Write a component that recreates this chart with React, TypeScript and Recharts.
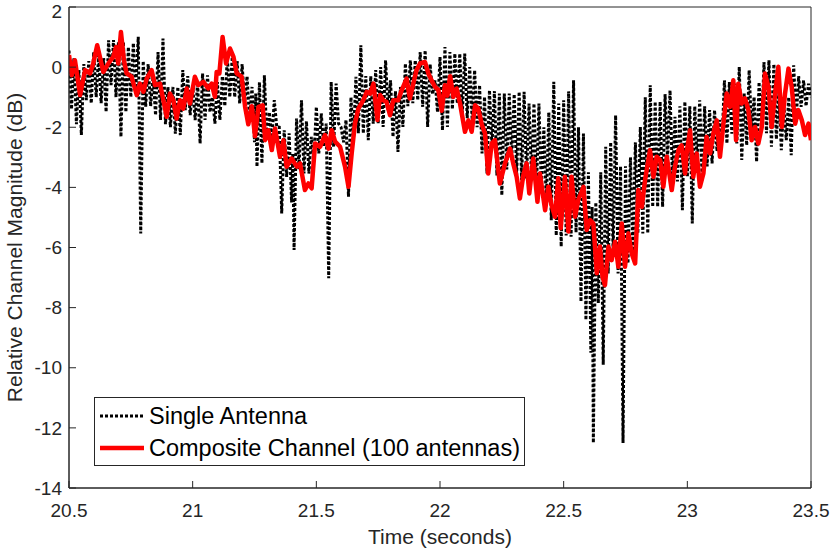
import { Label, Legend, Line, LineChart, ReferenceArea, XAxis, YAxis } from 'recharts';

// time axis (s) and magnitude axis (dB)
const xTicks = [20.5, 21, 21.5, 22, 22.5, 23, 23.5];
const yTicks = [-14, -12, -10, -8, -6, -4, -2, 0, 2];

// [time (s), relative magnitude (dB)]
const singleAntenna: [number, number][] = [
  [20.5, 0.55], [20.51, -1.4], [20.52, 0.3], [20.53, -1.9], [20.54, -0.1], [20.55, -2.26], [20.56, 0.1], [20.57, -1.1], [20.58, 0.2], [20.59, -1.2],
  [20.6, 0.5], [20.61, -1.0], [20.62, 0.4], [20.63, -1.2], [20.64, 0.3], [20.65, -1.49], [20.66, 0.89], [20.67, -0.6], [20.68, 0.9], [20.69, -1.0],
  [20.7, 0.84], [20.71, -2.32], [20.72, 0.84], [20.73, -1.5], [20.74, 0.67], [20.75, -1.0], [20.76, 0.8], [20.77, -0.7], [20.78, 1.01], [20.79, -5.53],
  [20.8, 0.2], [20.81, -1.32], [20.82, 0.1], [20.83, -1.3], [20.84, -0.3], [20.85, -1.6], [20.86, 0.5], [20.87, -1.76], [20.88, 0.95], [20.89, -1.9],
  [20.9, -0.66], [20.91, -2.0], [20.92, -0.66], [20.93, -2.21], [20.94, -0.66], [20.95, -2.26], [20.96, -0.1], [20.97, -1.43], [20.98, -0.3], [20.99, -1.6],
  [21.0, -0.6], [21.01, -1.76], [21.02, -0.5], [21.03, -2.54], [21.04, -0.21], [21.05, -1.76], [21.06, -0.27], [21.07, -1.5], [21.08, -1.0], [21.09, -1.88],
  [21.1, -0.5], [21.11, -1.76], [21.12, -0.3], [21.13, -1.3], [21.14, 0.34], [21.15, -1.0], [21.16, 0.34], [21.17, -1.0], [21.18, 0.2], [21.19, -1.21],
  [21.2, 0.1], [21.21, -1.21], [21.22, -0.3], [21.23, -1.76], [21.24, -0.66], [21.25, -2.5], [21.255, -0.88], [21.26, -3.31], [21.27, -0.5], [21.28, -3.2],
  [21.29, -0.27], [21.3, -2.4], [21.31, -1.5], [21.32, -2.43], [21.33, -1.1], [21.34, -1.99], [21.35, -2.0], [21.36, -4.87], [21.37, -2.1], [21.38, -3.65],
  [21.39, -2.2], [21.4, -4.5], [21.405, -2.87], [21.41, -6.08], [21.42, -1.71], [21.43, -3.4], [21.44, -1.1], [21.45, -3.54], [21.46, -1.8], [21.47, -3.54],
  [21.48, -2.32], [21.49, -3.09], [21.5, -1.32], [21.51, -2.87], [21.52, -1.54], [21.53, -2.65], [21.54, -1.88], [21.55, -7.02], [21.56, -0.49], [21.57, -2.65],
  [21.58, -0.55], [21.59, -1.88], [21.6, -2.0], [21.61, -2.5], [21.62, -1.76], [21.63, -4.31], [21.64, -1.0], [21.65, -2.43], [21.66, -0.32], [21.67, -2.2],
  [21.68, 0.73], [21.69, -2.21], [21.7, -0.3], [21.71, -2.43], [21.72, -0.3], [21.73, -1.88], [21.74, -0.1], [21.75, -1.88], [21.76, 0.0], [21.77, -1.99],
  [21.78, 0.23], [21.79, -1.43], [21.8, -0.44], [21.81, -2.32], [21.82, -0.8], [21.83, -2.82], [21.84, -0.66], [21.85, -1.99], [21.86, 0.12], [21.87, -1.3],
  [21.88, 0.23], [21.89, -1.2], [21.9, 0.23], [21.91, -1.1], [21.92, 0.5], [21.93, -1.32], [21.94, 0.56], [21.95, -1.99], [21.96, 0.1], [21.97, -0.9],
  [21.98, -0.44], [21.99, -1.5], [22.0, 0.34], [22.01, -2.1], [22.02, 0.67], [22.03, -1.99], [22.04, 0.5], [22.05, -1.4], [22.06, 0.45], [22.07, -1.21],
  [22.08, 0.45], [22.09, -1.65], [22.1, 0.45], [22.11, -1.7], [22.12, 0.0], [22.13, -1.76], [22.14, -0.1], [22.15, -2.0], [22.16, -0.6], [22.17, -2.87],
  [22.18, -0.99], [22.19, -3.54], [22.2, -0.77], [22.21, -2.65], [22.22, -0.8], [22.23, -3.6], [22.24, -0.88], [22.25, -4.26], [22.26, -0.88], [22.27, -3.4],
  [22.28, -0.88], [22.29, -3.09], [22.3, -0.9], [22.31, -3.6], [22.32, -0.82], [22.33, -3.76], [22.34, -0.82], [22.35, -3.7], [22.36, -1.21], [22.37, -3.65],
  [22.38, -1.21], [22.39, -4.09], [22.4, -1.21], [22.41, -4.09], [22.42, -2.0], [22.43, -4.54], [22.44, -1.5], [22.45, -5.09], [22.46, -0.49], [22.47, -5.6],
  [22.48, -1.21], [22.49, -5.97], [22.5, -1.1], [22.51, -5.6], [22.52, -0.8], [22.53, -5.64], [22.54, -0.44], [22.55, -5.5], [22.56, -2.0], [22.57, -7.8],
  [22.58, -2.21], [22.59, -8.41], [22.6, -3.5], [22.61, -9.5], [22.615, -4.65], [22.62, -12.5], [22.63, -4.5], [22.64, -7.85], [22.65, -3.5], [22.66, -9.9],
  [22.67, -2.65], [22.68, -6.86], [22.69, -2.5], [22.7, -6.2], [22.71, -1.6], [22.72, -6.86], [22.73, -3.3], [22.74, -12.5], [22.75, -3.3], [22.76, -6.53],
  [22.77, -3.0], [22.78, -6.2], [22.79, -2.5], [22.8, -5.53], [22.81, -1.99], [22.82, -5.53], [22.83, -1.0], [22.84, -5.53], [22.85, -0.6], [22.86, -4.65],
  [22.87, -1.15], [22.88, -4.65], [22.89, -1.15], [22.9, -4.65], [22.91, -0.9], [22.92, -3.09], [22.93, -0.77], [22.94, -3.76], [22.95, -1.65], [22.96, -3.8],
  [22.97, -1.3], [22.98, -4.76], [22.99, -1.15], [23.0, -3.65], [23.01, -1.3], [23.02, -5.2], [23.03, -1.3], [23.04, -3.31], [23.05, -1.1], [23.06, -3.76],
  [23.07, -1.3], [23.08, -3.3], [23.09, -1.43], [23.1, -3.2], [23.11, -1.43], [23.12, -2.8], [23.13, -1.76], [23.14, -2.5], [23.15, -0.44], [23.16, -2.54],
  [23.17, -0.5], [23.18, -2.21], [23.19, -0.55], [23.2, -2.54], [23.21, 0.01], [23.22, -3.09], [23.23, -0.88], [23.24, -2.6], [23.25, -0.1], [23.26, -2.2],
  [23.27, -0.99], [23.28, -3.15], [23.29, -0.5], [23.3, -2.1], [23.31, 0.17], [23.32, -2.2], [23.33, 0.23], [23.34, -2.65], [23.35, 0.1], [23.36, -2.4],
  [23.37, -0.8], [23.38, -2.76], [23.39, -1.2], [23.4, -2.43], [23.41, -1.0], [23.42, -2.93], [23.43, 0.06], [23.44, -1.76], [23.45, -0.3], [23.46, -1.32],
  [23.47, -0.44], [23.48, -1.3], [23.49, -0.55], [23.5, -1.0],
];

const compositeChannel: [number, number][] = [
  [20.5, 0.4], [20.511, -0.27], [20.524, 0.23], [20.545, -0.93], [20.565, -0.1], [20.585, -0.21], [20.598, 0.12], [20.614, 0.73], [20.639, -0.16], [20.659, 0.12],
  [20.679, 0.34], [20.69, 0.67], [20.699, 0.12], [20.71, 1.17], [20.722, 0.23], [20.733, -0.21], [20.753, -0.32], [20.774, -0.93], [20.787, -0.55], [20.801, -0.82],
  [20.814, -0.38], [20.834, -0.1], [20.848, -0.6], [20.868, -0.55], [20.895, -1.65], [20.908, -0.88], [20.922, -1.1], [20.935, -1.71], [20.949, -1.1], [20.962, -1.38],
  [20.976, -0.71], [20.989, -1.21], [21.009, -0.32], [21.023, -0.6], [21.043, -0.49], [21.063, -0.71], [21.077, -0.55], [21.09, -0.99], [21.097, -0.16], [21.108, -0.21],
  [21.121, 1.0], [21.135, 0.12], [21.151, 0.62], [21.165, 0.34], [21.178, -0.21], [21.198, -0.32], [21.212, -1.32], [21.225, -1.9], [21.239, -1.3], [21.252, -2.3],
  [21.266, -1.32], [21.283, -1.27], [21.293, -2.43], [21.306, -2.1], [21.32, -2.76], [21.333, -2.04], [21.353, -2.98], [21.367, -2.43], [21.38, -3.31], [21.4, -3.04],
  [21.421, -3.31], [21.434, -3.2], [21.454, -4.09], [21.468, -3.87], [21.481, -4.03], [21.495, -2.54], [21.515, -2.65], [21.535, -2.26], [21.549, -2.71], [21.562, -2.1],
  [21.576, -2.48], [21.596, -2.65], [21.616, -3.31], [21.63, -3.98], [21.643, -2.87], [21.656, -1.88], [21.67, -1.38], [21.69, -1.1], [21.704, -0.82], [21.717, -0.88],
  [21.731, -0.55], [21.747, -1.76], [21.758, -0.93], [21.771, -1.1], [21.784, -1.16], [21.798, -1.6], [21.811, -1.1], [21.831, -1.1], [21.845, -0.77], [21.865, -0.38],
  [21.878, -1.04], [21.892, -0.55], [21.905, -0.1], [21.919, 0.12], [21.939, 0.17], [21.953, -0.21], [21.966, -0.44], [21.98, -0.66], [21.993, -0.75], [22.007, -1.45],
  [22.02, -0.6], [22.03, -0.95], [22.041, -0.3], [22.054, -0.99], [22.067, -0.71], [22.081, -1.21], [22.101, -2.15], [22.115, -1.77], [22.128, -2.15], [22.142, -1.27],
  [22.155, -1.38], [22.168, -1.88], [22.182, -2.21], [22.195, -3.54], [22.209, -2.54], [22.222, -2.43], [22.242, -3.87], [22.263, -3.2], [22.283, -2.71], [22.296, -3.2],
  [22.31, -3.65], [22.323, -4.37], [22.337, -3.59], [22.35, -3.2], [22.361, -4.2], [22.377, -3.04], [22.394, -4.48], [22.404, -3.54], [22.425, -4.76], [22.438, -3.98],
  [22.451, -4.59], [22.465, -4.98], [22.478, -3.7], [22.488, -5.36], [22.505, -3.65], [22.519, -5.47], [22.532, -3.65], [22.546, -4.98], [22.559, -4.42], [22.58, -3.98],
  [22.593, -5.42], [22.607, -5.09], [22.62, -5.2], [22.634, -6.86], [22.647, -5.97], [22.657, -6.97], [22.667, -7.25], [22.681, -5.97], [22.694, -6.42], [22.708, -5.81],
  [22.721, -6.64], [22.735, -5.2], [22.748, -6.64], [22.762, -5.53], [22.775, -6.2], [22.789, -6.53], [22.802, -4.09], [22.816, -4.65], [22.829, -3.76], [22.849, -2.76],
  [22.863, -3.65], [22.876, -2.98], [22.89, -3.09], [22.903, -3.98], [22.917, -2.98], [22.937, -4.09], [22.95, -3.31], [22.964, -2.76], [22.977, -2.6], [22.991, -3.54],
  [22.997, -2.87], [23.011, -2.1], [23.024, -3.65], [23.038, -2.87], [23.051, -3.98], [23.065, -3.54], [23.078, -2.32], [23.092, -2.87], [23.105, -2.21], [23.119, -1.77],
  [23.132, -2.98], [23.146, -1.88], [23.159, -0.88], [23.173, -1.32], [23.186, -0.44], [23.197, -2.43], [23.206, -0.55], [23.22, -1.21], [23.233, -1.04], [23.247, -1.43],
  [23.26, -2.43], [23.274, -1.99], [23.287, -2.54], [23.301, -1.99], [23.314, -0.21], [23.328, -0.66], [23.341, -1.99], [23.355, -0.88], [23.368, 0.01], [23.382, -1.99],
  [23.395, -0.88], [23.409, -0.05], [23.422, -0.66], [23.436, -1.88], [23.449, -1.43], [23.463, -1.77], [23.476, -2.26], [23.49, -1.88], [23.5, -2.43],
];

const singleRows = singleAntenna.map(([t, v]) => ({ t, v }));
const compositeRows = compositeChannel.map(([t, v]) => ({ t, v }));

const FONT = "'Liberation Sans', Arial, Helvetica, sans-serif";
const AXIS = '#262626';

function LegendBox() {
  return (
    <div
      style={{
        width: 431,
        height: 69,
        boxSizing: 'border-box',
        border: `1px solid ${AXIS}`,
        background: '#fff',
        fontFamily: FONT,
        fontSize: 23.5,
        color: '#000',
        paddingLeft: 5,
        paddingTop: 2,
      }}
    >
      <div style={{ display: 'flex', alignItems: 'center', height: 32 }}>
        <svg width={44} height={10} style={{ marginRight: 5 }}>
          <line x1={0} y1={5} x2={44} y2={5} stroke="#000" strokeWidth={3} strokeDasharray="3 2" />
        </svg>
        <span>Single Antenna</span>
      </div>
      <div style={{ display: 'flex', alignItems: 'center', height: 32 }}>
        <svg width={44} height={10} style={{ marginRight: 5 }}>
          <line x1={0} y1={5} x2={44} y2={5} stroke="#ff0000" strokeWidth={4.5} />
        </svg>
        <span>Composite Channel (100 antennas)</span>
      </div>
    </div>
  );
}

export default function App() {
  return (
    <div style={{ position: 'absolute', left: 0, top: 0, background: '#fff', fontFamily: FONT }}>
      <LineChart width={830} height={553} margin={{ top: 7, right: 19, left: 0, bottom: 0 }}>
        <XAxis
          dataKey="t"
          type="number"
          domain={[20.5, 23.5]}
          ticks={xTicks}
          height={65}
          stroke={AXIS}
          tickSize={-7}
          tickMargin={22.5}
          tick={{ fill: AXIS, fontSize: 19 }}
          allowDataOverflow
        >
          <Label value="Time (seconds)" position="insideBottom" offset={9.5} style={{ fill: AXIS, fontSize: 21 }} />
        </XAxis>
        <YAxis
          type="number"
          domain={[-14, 2]}
          ticks={yTicks}
          width={69}
          stroke={AXIS}
          tickSize={-7}
          tickMargin={14}
          tick={{ fill: AXIS, fontSize: 19 }}
          allowDataOverflow
        >
          <Label
            value="Relative Channel Magnitude (dB)"
            angle={-90}
            position="insideLeft"
            offset={14.5}
            style={{ fill: AXIS, fontSize: 21, textAnchor: 'middle' }}
          />
        </YAxis>
        <XAxis
          xAxisId="top"
          orientation="top"
          type="number"
          domain={[20.5, 23.5]}
          ticks={xTicks}
          height={0}
          axisLine={false}
          tick={false}
          tickSize={-7}
          stroke={AXIS}
          allowDataOverflow
        />
        <YAxis
          yAxisId="right"
          orientation="right"
          type="number"
          domain={[-14, 2]}
          ticks={yTicks}
          width={0}
          axisLine={false}
          tick={false}
          tickSize={-7}
          stroke={AXIS}
          allowDataOverflow
        />
        <Line
          data={singleRows}
          dataKey="v"
          stroke="#000"
          strokeWidth={3}
          strokeDasharray="3 2"
          dot={false}
          activeDot={false}
          isAnimationActive={false}
        />
        <Line
          data={compositeRows}
          dataKey="v"
          stroke="#ff0000"
          strokeWidth={4.5}
          strokeLinejoin="round"
          dot={false}
          activeDot={false}
          isAnimationActive={false}
        />
        <ReferenceArea x1={20.5} x2={23.5} y1={-14} y2={2} fill="none" stroke={AXIS} strokeWidth={1} />
        <Legend
          layout="vertical"
          align="center"
          verticalAlign="middle"
          wrapperStyle={{ left: 94, top: 397, width: 431, height: 69 }}
          content={() => <LegendBox />}
        />
      </LineChart>
    </div>
  );
}
